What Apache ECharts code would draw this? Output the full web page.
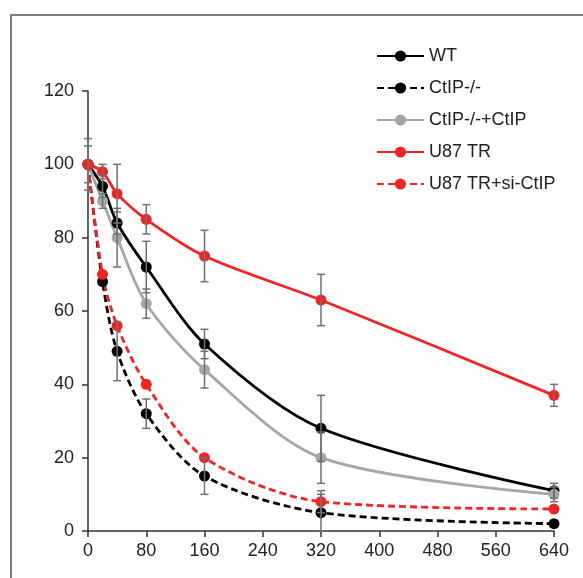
<!DOCTYPE html>
<html>
<head>
<meta charset="utf-8">
<script src="https://cdn.jsdelivr.net/npm/echarts@6/dist/echarts.min.js"></script>
<style>html,body{margin:0;padding:0;background:#fff;}#c{width:583px;height:578px;}</style>
</head>
<body>
<div id="c"></div>
<script>
const xValues = [0, 20, 40, 80, 160, 320, 640];
const xTicks = [0, 80, 160, 240, 320, 400, 480, 560, 640];
const seriesNames = ['WT', 'CtIP-/-', 'CtIP-/-+CtIP', 'U87 TR', 'U87 TR+si-CtIP'];
const wt = [100, 94, 84, 72, 51, 28, 11];
const wtErr = [0, 3, 3, 7, 4, 9, 2];
const ctip = [100, 68, 49, 32, 15, 5, 2];
const ctipErr = [0, 0, 8, 4, 5, 5, 0];
const ctipRescue = [100, 90, 80, 62, 44, 20, 10];
const ctipRescueErr = [5, 2, 8, 4, 5, 7, 2];
const u87 = [100, 98, 92, 85, 75, 63, 37];
const u87Err = [7, 2, 8, 4, 7, 7, 3];
const u87si = [100, 70, 56, 40, 20, 8, 6];
const u87siErr = [0, 0, 0, 0, 0, 3, 0];

const FONT = 'Arial, "Liberation Sans", sans-serif';
const colors = ['#000000', '#000000', '#a6a6a6', '#ee2526', '#ee2526'];
const dashed = [false, true, false, false, true];
const values = [wt, ctip, ctipRescue, u87, u87si];
const errs = [wtErr, ctipErr, ctipRescueErr, u87Err, u87siErr];

const series = [];
values.forEach((v, i) => {
  series.push({
    name: seriesNames[i],
    type: 'line',
    smooth: 0.3,
    data: xValues.map((x, j) => [x, v[j]]),
    symbol: 'circle',
    symbolSize: 11,
    itemStyle: { color: colors[i] },
    lineStyle: { color: colors[i], width: 2.8, type: dashed[i] ? [7, 4] : 'solid' },
    z: 3
  });
});
values.forEach((v, i) => {
  series.push({
    type: 'custom',
    z: 4,
    silent: true,
    data: xValues.map((x, j) => [x, v[j], errs[i][j]]).filter(d => d[2] > 0),
    renderItem: function (params, api) {
      const x = api.value(0), y = api.value(1), e = api.value(2);
      const top = api.coord([x, y + e]);
      const bot = api.coord([x, y - e]);
      const hw = 4;
      const st = { stroke: '#707070', lineWidth: 1.5 };
      return {
        type: 'group',
        children: [
          { type: 'line', shape: { x1: top[0], y1: top[1], x2: bot[0], y2: bot[1] }, style: st },
          { type: 'line', shape: { x1: top[0] - hw, y1: top[1], x2: top[0] + hw, y2: top[1] }, style: st },
          { type: 'line', shape: { x1: bot[0] - hw, y1: bot[1], x2: bot[0] + hw, y2: bot[1] }, style: st }
        ]
      };
    }
  });
});

const chart = echarts.init(document.getElementById('c'), null, { renderer: 'canvas' });
chart.setOption({
  animation: false,
  backgroundColor: '#fff',
  graphic: [{
    type: 'rect',
    shape: { x: 11, y: 15, width: 620, height: 620 },
    style: { fill: 'none', stroke: '#555', lineWidth: 1.5 },
    z: -1
  }],
  grid: { left: 88, right: 29, top: 91, bottom: 47, containLabel: false },
  legend: {
    orient: 'vertical',
    left: 376,
    top: 47,
    padding: 0,
    itemWidth: 47,
    itemHeight: 14,
    itemGap: 14,
    data: seriesNames,
    textStyle: { fontFamily: FONT, fontSize: 18, color: '#222', padding: [0, 0, 0, 0] },
    selectedMode: false
  },
  xAxis: {
    type: 'value',
    min: xTicks[0],
    max: xTicks[xTicks.length - 1],
    interval: 80,
    axisLine: { lineStyle: { color: '#333', width: 1.5 } },
    axisTick: { show: true, length: 6, lineStyle: { color: '#333', width: 1.5 } },
    axisLabel: { fontFamily: FONT, fontSize: 18, color: '#222', margin: 11 },
    splitLine: { show: false }
  },
  yAxis: {
    type: 'value',
    min: 0,
    max: 120,
    interval: 20,
    axisLine: { show: true, lineStyle: { color: '#333', width: 1.5 } },
    axisTick: { show: true, length: 6, lineStyle: { color: '#333', width: 1.5 } },
    axisLabel: { fontFamily: FONT, fontSize: 18, color: '#222', margin: 14 },
    splitLine: { show: false }
  },
  series: series
});
</script>
</body>
</html>
